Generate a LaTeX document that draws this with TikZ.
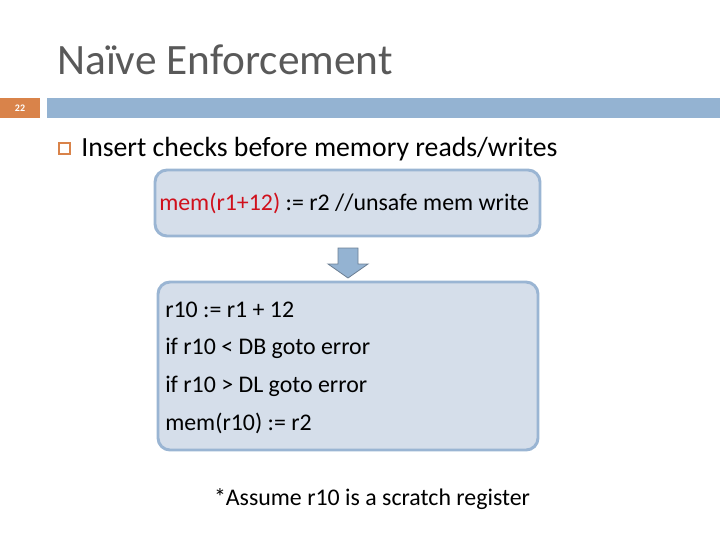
\documentclass[tikz,border=0pt]{standalone}
\usepackage{fontspec}
\setmainfont{Carlito}
\usetikzlibrary{positioning}
\definecolor{barblue}{HTML}{94B3D2}
\definecolor{boxfill}{HTML}{D5DEEA}
\definecolor{boxline}{HTML}{9AB5D3}
\definecolor{slideorange}{HTML}{D9834A}
\definecolor{titlegray}{HTML}{595959}
\definecolor{codered}{HTML}{D0101C}
\tikzset{
  codebox/.style={draw=boxline, line width=2.2pt, fill=boxfill, rounded corners=9pt},
  codeline/.style={anchor=west, font=\fontsize{17.9}{21}\selectfont, inner sep=0pt}
}
\begin{document}
\begin{tikzpicture}[x=0.75pt, y=-0.75pt]
    \useasboundingbox (0,0) rectangle (720,540);
    % title and header bar
    \node[anchor=base west, inner sep=0pt, text=titlegray, font=\fontsize{32.5}{38}\selectfont] (title) at (57,74) {Naïve Enforcement};
    \fill[slideorange] (0,98) rectangle (40,118);
    \node[text=white, font=\fontsize{7.5}{8}\selectfont\bfseries] (num) at (20,108) {22};
    \fill[barblue] (47,98) rectangle (720,118);
    % bullet
    \draw[slideorange, line width=0.9pt] (59,143) rectangle (70,154);
    \node[anchor=west, inner sep=0pt, font=\fontsize{20.8}{24}\selectfont] (bullet) at (81,149) {Insert checks before memory reads/writes};
    % unsafe write
    \draw[codebox] (155,170) rectangle (540,236);
    \node[codeline] (unsafe) at (159,203) {\textcolor{codered}{mem(r1+12)} := r2 //unsafe mem write};
    % down arrow
    \draw[fill=barblue, draw=boxline!70!black, line width=0.6pt] (338,248) -- (358,248) -- (358,264) -- (368,264) -- (348,278) -- (328,264) -- (338,264) -- cycle;
    % checked write
    \draw[codebox] (158,282) rectangle (538,450);
    \node[codeline] (l1) at (165,310) {r10 := r1 + 12};
    \node[codeline] (l2) at (165,348) {if r10 < DB goto error};
    \node[codeline] (l3) at (165,386) {if r10 > DL goto error};
    \node[codeline] (l4) at (165,423) {mem(r10) := r2};
    % footnote
    \node[font=\fontsize{17.9}{21}\selectfont] (note) at (372,499) {*Assume r10 is a scratch register};
\end{tikzpicture}
\end{document}
